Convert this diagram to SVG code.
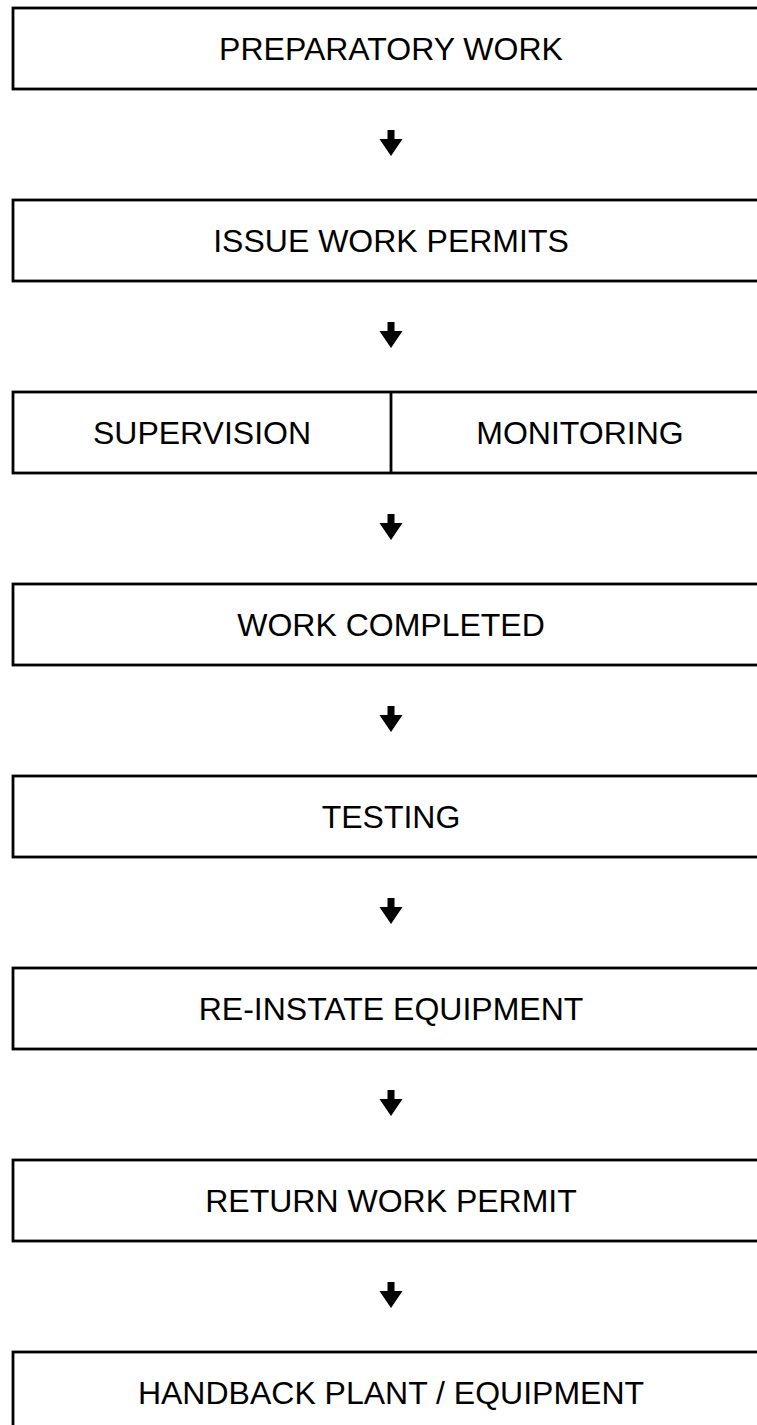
<svg xmlns="http://www.w3.org/2000/svg" width="757" height="1425" viewBox="0 0 757 1425">
<style>
.box{fill:#fff;stroke:#000;stroke-width:2.8}
.lbl{font-family:"Liberation Sans",Arial,sans-serif;font-size:32px;fill:#000;text-anchor:middle}
.arr{fill:#000}
</style>
<defs>
<path id="dn" d="M-3.5,-13 H3.5 V-4 H11.5 L0,13 L-11.5,-4 H-3.5 Z"/>
</defs>
<rect width="757" height="1425" fill="#fff"/>
<g id="connectors">
<use href="#dn" class="arr" x="391" y="143"/>
<use href="#dn" class="arr" x="391" y="335"/>
<use href="#dn" class="arr" x="391" y="527"/>
<use href="#dn" class="arr" x="391" y="719"/>
<use href="#dn" class="arr" x="391" y="911"/>
<use href="#dn" class="arr" x="391" y="1103"/>
<use href="#dn" class="arr" x="391" y="1295"/>
</g>
<g id="n1"><rect class="box" x="13" y="8" width="760" height="81"/><text class="lbl" x="391" y="60">PREPARATORY WORK</text></g>
<g id="n2"><rect class="box" x="13" y="200" width="760" height="81"/><text class="lbl" x="391" y="252">ISSUE WORK PERMITS</text></g>
<g id="n3"><rect class="box" x="13" y="392" width="760" height="81"/><line x1="391" y1="392" x2="391" y2="473" stroke="#000" stroke-width="2.8"/><text class="lbl" x="202" y="444">SUPERVISION</text><text class="lbl" x="580" y="444">MONITORING</text></g>
<g id="n4"><rect class="box" x="13" y="584" width="760" height="81"/><text class="lbl" x="391" y="636">WORK COMPLETED</text></g>
<g id="n5"><rect class="box" x="13" y="776" width="760" height="81"/><text class="lbl" x="391" y="828">TESTING</text></g>
<g id="n6"><rect class="box" x="13" y="968" width="760" height="81"/><text class="lbl" x="391" y="1020">RE-INSTATE EQUIPMENT</text></g>
<g id="n7"><rect class="box" x="13" y="1160" width="760" height="81"/><text class="lbl" x="391" y="1212">RETURN WORK PERMIT</text></g>
<g id="n8"><rect class="box" x="13" y="1352" width="760" height="100"/><text class="lbl" x="391" y="1404">HANDBACK PLANT / EQUIPMENT</text></g>
</svg>
